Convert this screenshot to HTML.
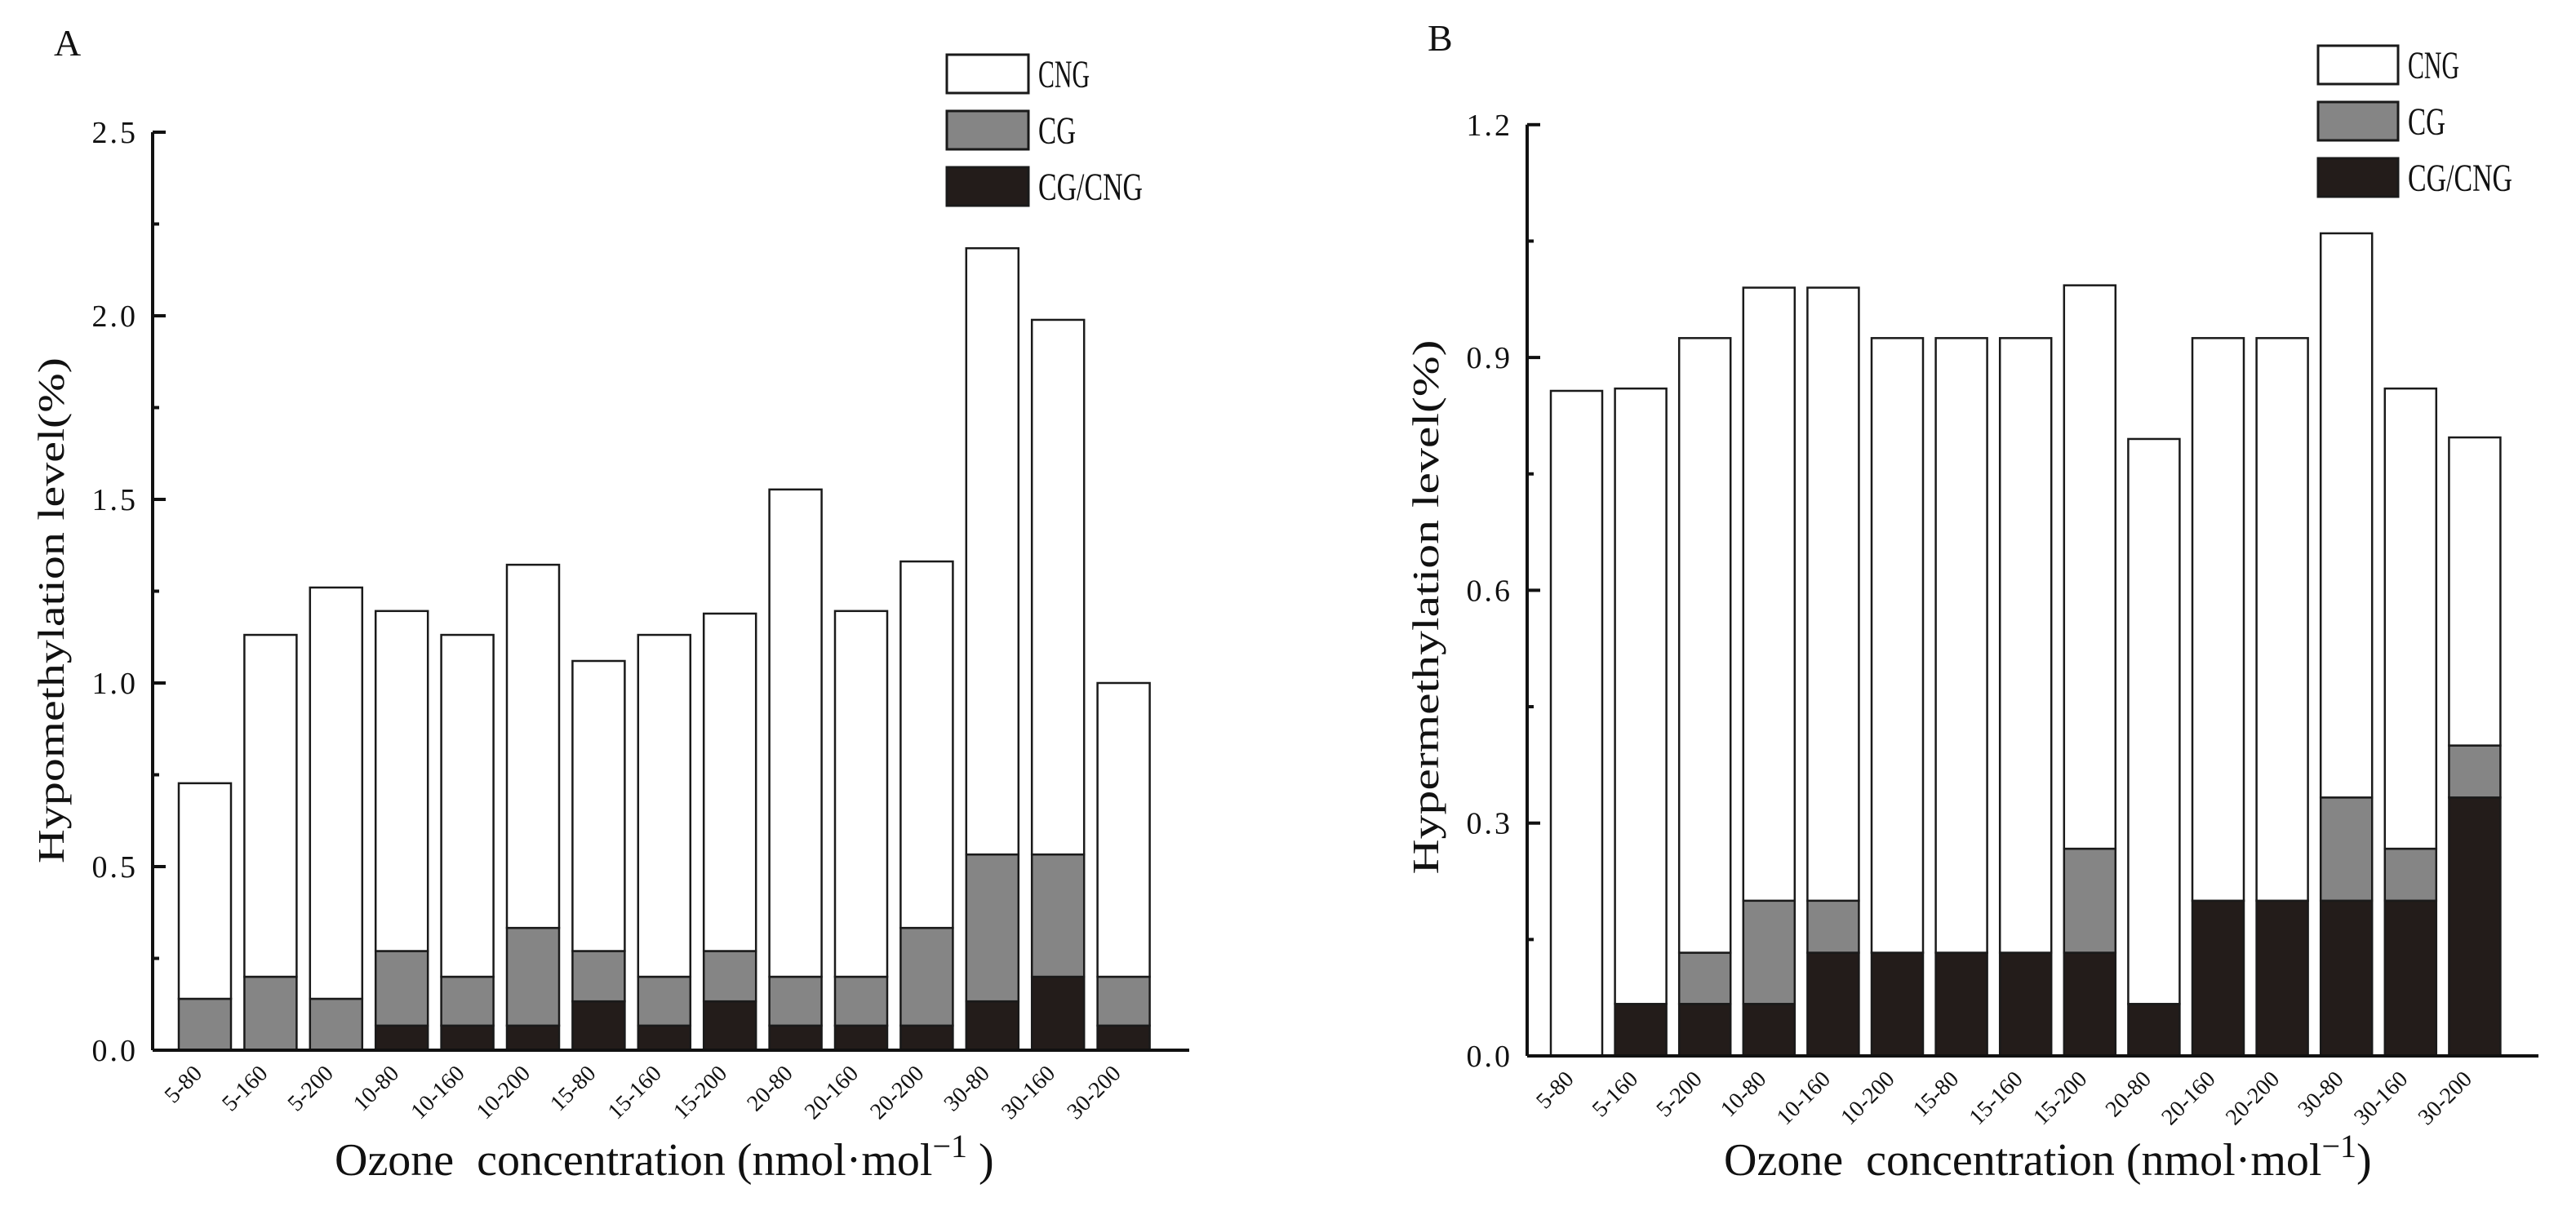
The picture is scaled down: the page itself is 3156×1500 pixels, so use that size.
<!DOCTYPE html>
<html><head><meta charset="utf-8">
<style>
html,body{margin:0;padding:0;background:#fff;}
svg{display:block;}
text{font-family:"Liberation Serif",serif;fill:#111;}
</style></head>
<body>
<svg id="chart" width="3156" height="1500" viewBox="0 0 3156 1500" xmlns="http://www.w3.org/2000/svg">
<text x="66" y="68" font-size="46">A</text>
<text x="1749" y="62" font-size="46">B</text>
</svg>
<script>
const categories = ["5-80","5-160","5-200","10-80","10-160","10-200","15-80","15-160","15-200","20-80","20-160","20-200","30-80","30-160","30-200"];
// Panel A (hypomethylation) stacked components
const aCgCng = [0,0,0,0.067,0.067,0.067,0.133,0.067,0.133,0.067,0.067,0.067,0.133,0.2,0.067];
const aCg    = [0.14,0.2,0.14,0.203,0.133,0.266,0.137,0.133,0.137,0.133,0.133,0.266,0.4,0.333,0.133];
const aCng   = [0.587,0.931,1.12,0.926,0.931,0.989,0.79,0.931,0.919,1.327,0.996,0.998,1.651,1.456,0.8];
const aTicks = ["0.0","0.5","1.0","1.5","2.0","2.5"];
const aTickVals = [0,0.5,1.0,1.5,2.0,2.5];
// Panel B (hypermethylation)
const bCgCng = [0,0.067,0.067,0.067,0.133,0.133,0.133,0.133,0.133,0.067,0.2,0.2,0.2,0.2,0.333];
const bCg    = [0,0,0.066,0.133,0.067,0,0,0,0.134,0,0,0,0.133,0.067,0.067];
const bCng   = [0.857,0.793,0.792,0.79,0.79,0.792,0.792,0.792,0.726,0.728,0.725,0.725,0.727,0.593,0.397];
const bTicks = ["0.0","0.3","0.6","0.9","1.2"];
const bTickVals = [0,0.3,0.6,0.9,1.2];
const seriesNames = ["CNG","CG","CG/CNG"];

const NS = "http://www.w3.org/2000/svg";
const svg = document.getElementById("chart");
function mk(tag, attrs, parent){
  const e = document.createElementNS(NS, tag);
  for (const k in attrs) e.setAttribute(k, attrs[k]);
  (parent||svg).appendChild(e);
  return e;
}
const colors = {"CG/CNG":"#231c1a","CG":"#858585","CNG":"#ffffff"};

function panel(cfg){
  const g = mk("g",{});
  
  
  const y = v => cfg.y0 - v * cfg.ppu;
  const xc = i => cfg.x0 + i * cfg.step;
  // bars
  categories.forEach((c,i)=>{
    const parts = [["CG/CNG",cfg.s1[i]],["CG",cfg.s2[i]],["CNG",cfg.s3[i]]];
    let acc = 0;
    parts.forEach(([nm,v])=>{
      if (v <= 0) return;
      const r = mk("rect",{x:xc(i), y:y(acc+v), width:cfg.bw, height:v*cfg.ppu, fill:colors[nm], stroke:"#1a1a1a","stroke-width":2.5}, g);
      
      
      acc += v;
    });
    const t = mk("text",{x:0,y:0,"font-size":28,"text-anchor":"end",transform:`translate(${xc(i)+cfg.bw/2-2},${cfg.y0+30}) rotate(-45)`}, g);
    t.textContent = c;
    
    
  });
  // axes
  const ax = mk("line",{x1:cfg.ax, y1:cfg.y0, x2:cfg.axEnd, y2:cfg.y0, stroke:"#111","stroke-width":4}, g);
  
  
  const top = y(cfg.tickVals[cfg.tickVals.length-1]);
  const ay = mk("line",{x1:cfg.ax, y1:cfg.y0, x2:cfg.ax, y2:top, stroke:"#111","stroke-width":4}, g);
  
  
  cfg.tickVals.forEach((v,k)=>{
    const tk = mk("line",{x1:cfg.ax, y1:y(v), x2:cfg.ax+16, y2:y(v), stroke:"#111","stroke-width":4}, g);
    
    
    if (k < cfg.tickVals.length-1){
      const mv = (v + cfg.tickVals[k+1]) / 2;
      const mt = mk("line",{x1:cfg.ax, y1:y(mv), x2:cfg.ax+8, y2:y(mv), stroke:"#111","stroke-width":4}, g);
      
      
    }
    const tl = mk("text",{x:cfg.ax-18, y:y(v)+13, "font-size":38, "text-anchor":"end", "letter-spacing":3}, g);
    tl.textContent = cfg.ticks[k];
    
    
  });
  // y title
  const yt = mk("text",{x:0,y:0,"font-size":46,"text-anchor":"middle",textLength:cfg.ytLen,lengthAdjust:"spacingAndGlyphs",
    "font-family":"Liberation Mono, monospace",transform:`translate(${cfg.ytX},${cfg.ytY}) rotate(-90)`}, g);
  yt.textContent = cfg.ytitle;
  
  
  // x title
  const xt = mk("text",{x:cfg.xtX, y:1440, "font-size":56}, g);
  
  
  xt.innerHTML = 'Ozone&#160;&#160;concentration (nmol·mol<tspan dy="-22" font-size="40">−1</tspan><tspan dy="22">' + cfg.xtTail + ')</tspan>';
  // legend
  seriesNames.forEach((nm,k)=>{
    const ly = cfg.legY + k*69;
    const lr = mk("rect",{x:cfg.legX, y:ly, width:cfg.legW, height:47, fill:colors[nm], stroke:"#1a1a1a","stroke-width":3}, g);
    
    
    const lt = mk("text",{x:cfg.legX+cfg.legW+12, y:ly+40, "font-size":48, textLength:[63,46,128][k], lengthAdjust:"spacingAndGlyphs"}, g);
    lt.textContent = nm;
    
    
  });
}

panel({id:"panel-a", s1:aCgCng, s2:aCg, s3:aCng, ticks:aTicks, tickVals:aTickVals,
  x0:219, step:80.4, bw:64, y0:1287, ppu:450, ax:187, axEnd:1457,
  ytitle:"Hypomethylation level(%)", ytX:78, ytY:748, ytLen:620,
  xtX:410, xtTail:"&#160;", legX:1160, legY:67, legW:100});
panel({id:"panel-b", s1:bCgCng, s2:bCg, s3:bCng, ticks:bTicks, tickVals:bTickVals,
  x0:1900, step:78.6, bw:63, y0:1294, ppu:951, ax:1871, axEnd:3110,
  ytitle:"Hypermethylation level(%)", ytX:1762, ytY:744, ytLen:655,
  xtX:2112, xtTail:"", legX:2840, legY:56, legW:98});
</script>
</body></html>
